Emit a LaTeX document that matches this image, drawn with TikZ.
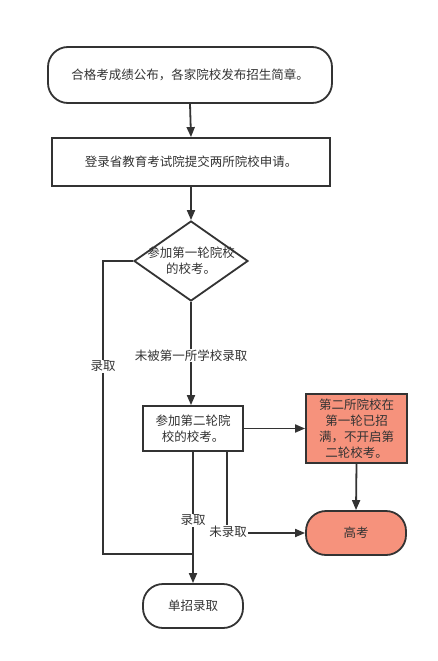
\documentclass[tikz,border=0pt]{standalone}
\usepackage{fontspec}
\newfontfamily\cjk{Noto Sans CJK SC}
\usetikzlibrary{arrows.meta,shapes.geometric}
\definecolor{ln}{HTML}{333333}
\definecolor{salmon}{RGB}{246,146,124}
\begin{document}
\begin{tikzpicture}[x=1pt,y=-1pt,
  every node/.style={font=\cjk\fontsize{12.5}{16}\selectfont, text=ln, align=center, inner sep=0pt},
  box/.style={draw=ln, line width=1.8pt, fill=white, minimum width=#1},
  rbox/.style={draw=ln, line width=1.8pt, fill=white, rounded corners=20pt, minimum width=#1},
  conn/.style={draw=ln, line width=1.8pt},
  arr/.style={conn, -{Triangle[length=10pt,width=8pt]}},
  lab/.style={fill=white, inner sep=1pt}
]
\useasboundingbox (0,0) rectangle (438,661);
\node[rbox=284pt, minimum height=56pt] (n1) at (190,75) {合格考成绩公布，各家院校发布招生简章。};
\node[box=278pt, minimum height=48pt] (n2) at (191,162) {登录省教育考试院提交两所院校申请。};
\node[draw=ln, line width=1.8pt, fill=white, diamond, aspect=1.425, minimum width=114pt, minimum height=80pt] (d) at (191,261) {};
\node (dt) at (191,261) {参加第一轮院校\\的校考。};
\node[box=100pt, minimum height=45pt] (n3) at (193,428.5) {参加第二轮院\\校的校考。};
\node[draw=ln, line width=1.8pt, fill=salmon, minimum width=101pt, minimum height=69pt] (r) at (356.5,428.5) {第二所院校在\\第一轮已招\\满，不开启第\\二轮校考。};
\node[rbox=100pt, minimum height=44pt, fill=salmon] (g) at (356,533) {高考};
\node[rbox=100pt, minimum height=44pt] (s) at (193,606) {单招录取};
\coordinate (j) at (193,554);
\coordinate (lc) at (103,261);
\coordinate (nb) at (227,533);

\draw[arr] (n1.south) -- (n2.north);
\draw[arr] (n2.south) -- (d.north);
\draw[arr] (d.south) -- node[lab, pos=0.52] {未被第一所学校录取} (d.south |- n3.north);
\draw[conn] (d.west) -- (lc) -- node[lab, pos=0.36] {录取} (lc |- j) -- (j);
\draw[arr] (n3.south) -- node[lab, pos=0.52] {录取} (s.north);
\draw[conn] (n3.south -| nb) -- (nb);
\draw[arr] (nb) -- (g.west);
\node[lab] (nl) at (228,532) {未录取};
\draw[arr] (n3.east) -- (r.west);
\draw[arr] (r.south) -- (g.north);
\end{tikzpicture}
\end{document}
